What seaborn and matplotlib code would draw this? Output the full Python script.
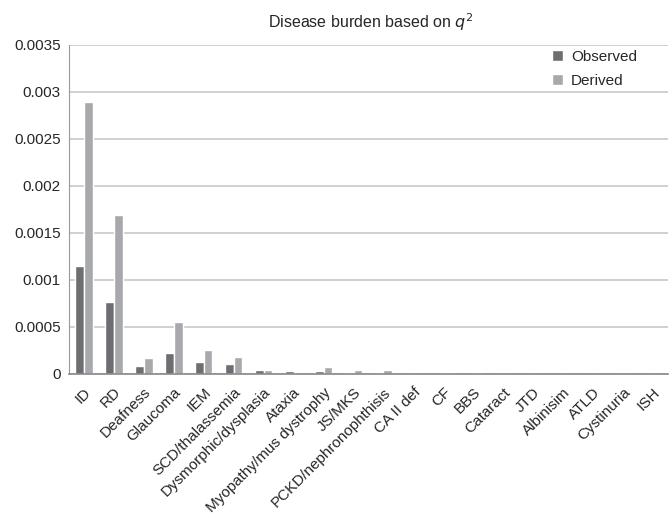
import numpy as np
import pandas as pd
import matplotlib.pyplot as plt
import seaborn as sns

diseases = ['ID', 'RD', 'Deafness', 'Glaucoma', 'IEM', 'SCD/thalassemia',
            'Dysmorphic/dysplasia', 'Ataxia', 'Myopathy/mus dystrophy', 'JS/MKS',
            'PCKD/nephronophthisis', 'CA II def', 'CF', 'BBS', 'Cataract', 'JTD',
            'Albinisim', 'ATLD', 'Cystinuria', 'ISH']
observed = [0.00115, 0.00077, 0.00008, 0.00022, 0.00013, 0.00011,
            0.00004, 0.00003, 0.00003, 0.00001, 0.00001, 0.000004,
            0.0, 0.0, 0.0, 0.0, 0.0, 0.0, 0.0, 0.0]
derived = [0.00289, 0.00169, 0.00017, 0.00055, 0.00025, 0.00018,
           0.000045, 0.0, 0.00007, 0.00004, 0.00004, 0.0,
           0.00001, 0.00001, 0.0, 0.0, 0.0, 0.0, 0.0, 0.0]

data = pd.DataFrame({
    'Disease': diseases * 2,
    'Value': observed + derived,
    'Series': ['Observed'] * len(diseases) + ['Derived'] * len(diseases),
})

sns.set_style('white')
plt.rcParams['font.family'] = ['Liberation Sans', 'DejaVu Sans']

fig = plt.figure(figsize=(6.7, 5.19), dpi=100)
ax = fig.add_axes([0.103, 0.2794, 0.894, 0.634])

sns.barplot(data=data, x='Disease', y='Value', hue='Series',
            palette={'Observed': '#6d6e71', 'Derived': '#a7a9ac'},
            width=0.58, saturation=1, ax=ax)

ax.set_ylim(0, 0.0035)
yticks = [0, 0.0005, 0.001, 0.0015, 0.002, 0.0025, 0.003, 0.0035]
ax.set_yticks(yticks)
ax.set_yticklabels(['0', '0.0005', '0.001', '0.0015', '0.002', '0.0025', '0.003', '0.0035'],
                   fontsize=11)
ax.yaxis.grid(True, color='#c8c8c8', linewidth=1.2)
ax.set_axisbelow(True)
ax.set_xlim(-0.5, len(diseases) - 0.5)
ax.set_xlabel('')
ax.set_ylabel('')
plt.setp(ax.get_xticklabels(), rotation=45, ha='right', rotation_mode='anchor', fontsize=11)
ax.tick_params(axis='x', length=0, pad=8)
ax.tick_params(axis='y', length=0, pad=6)

for side in ['top', 'right']:
    ax.spines[side].set_visible(False)
ax.spines['left'].set_color('#999999')
ax.spines['bottom'].set_color('#888888')
ax.spines['bottom'].set_linewidth(1.2)

ax.legend(title=None, frameon=False, loc='upper left', fontsize=11,
          handlelength=0.75, handleheight=0.75, handletextpad=0.5, labelspacing=0.63,
          bbox_to_anchor=(0.806, 0.985), borderaxespad=0, borderpad=0)

fig.text(0.554, 0.957, 'Disease burden based on $q^2$', fontsize=11.5,
         ha='center', va='center')

fig.savefig('out.png', dpi=100)
